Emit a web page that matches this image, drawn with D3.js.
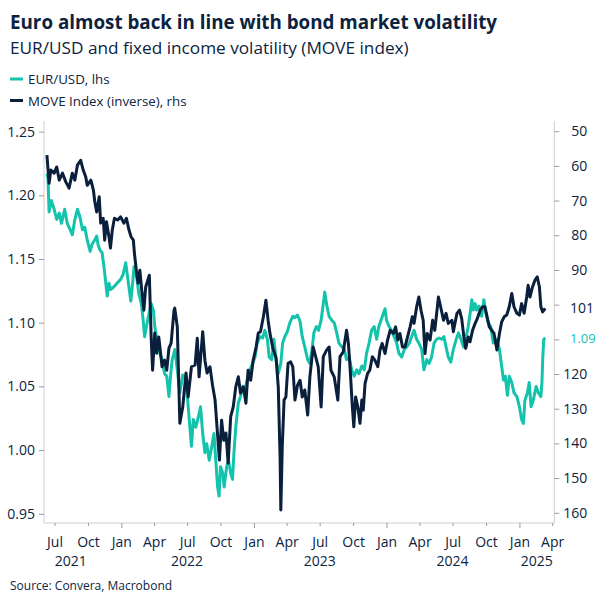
<!DOCTYPE html>
<html>
<head>
<meta charset="utf-8">
<script src="https://cdn.jsdelivr.net/npm/d3@7"></script>
<style>
  body { margin: 0; background: #fff; }
  svg { display: block; font-family: "Open Sans", sans-serif; }
</style>
</head>
<body>
<div id="chart"></div>
<script>
// Constants for the chart
const WIDTH = 605;
const HEIGHT = 605;
const PLOT = { left: 44, right: 554.3, top: 121, bottom: 523 };
const TEXT_COLOR = "#0c2340";
const EUR_COLOR = "#14c3ac";
const MOVE_COLOR = "#0a1f3c";
const AXIS_COLOR = "#cfcfcf";

// EUR/USD, left hand side
const eurDates = [
  "2021-06-10","2021-06-13","2021-06-16","2021-06-22","2021-06-30","2021-07-07","2021-07-14","2021-07-20",
  "2021-07-29","2021-08-05","2021-08-13","2021-08-19","2021-08-26","2021-09-02","2021-09-09","2021-09-16",
  "2021-09-22","2021-09-29","2021-10-07","2021-10-13","2021-10-20","2021-10-25","2021-10-29","2021-11-03",
  "2021-11-09","2021-11-14","2021-11-18","2021-11-23","2021-11-28","2021-12-02","2021-12-11","2021-12-20",
  "2021-12-30","2022-01-06","2022-01-13","2022-01-19","2022-01-27","2022-01-31","2022-02-05","2022-02-12",
  "2022-02-18","2022-02-25","2022-03-02","2022-03-06","2022-03-11","2022-03-18","2022-03-24","2022-03-30",
  "2022-04-03","2022-04-10","2022-04-17","2022-04-23","2022-04-30","2022-05-06","2022-05-12","2022-05-17",
  "2022-05-21","2022-05-26","2022-05-28","2022-06-02","2022-06-11","2022-06-19","2022-06-25","2022-07-01",
  "2022-07-07","2022-07-13","2022-07-18","2022-07-25","2022-08-01","2022-08-07","2022-08-13","2022-08-19",
  "2022-08-24","2022-08-31","2022-09-07","2022-09-13","2022-09-18","2022-09-23","2022-09-27","2022-10-01",
  "2022-10-07","2022-10-11","2022-10-18","2022-10-23","2022-10-29","2022-11-03","2022-11-07","2022-11-12",
  "2022-11-19","2022-11-25","2022-12-01","2022-12-07","2022-12-13","2022-12-21","2022-12-28","2023-01-04",
  "2023-01-10","2023-01-18","2023-01-25","2023-01-31","2023-02-07","2023-02-12","2023-02-19","2023-02-25",
  "2023-03-03","2023-03-09","2023-03-16","2023-03-21","2023-03-27","2023-04-03","2023-04-10","2023-04-18",
  "2023-04-24","2023-05-01","2023-05-08","2023-05-14","2023-05-21","2023-05-29","2023-06-04","2023-06-10",
  "2023-06-15","2023-06-22","2023-06-28","2023-07-05","2023-07-11","2023-07-15","2023-07-21","2023-07-27",
  "2023-08-03","2023-08-10","2023-08-17","2023-08-23","2023-08-31","2023-09-07","2023-09-13","2023-09-20",
  "2023-09-27","2023-10-04","2023-10-11","2023-10-17","2023-10-25","2023-11-01","2023-11-07","2023-11-14",
  "2023-11-21","2023-11-28","2023-12-05","2023-12-11","2023-12-17","2023-12-23","2023-12-28","2024-01-01",
  "2024-01-08","2024-01-15","2024-01-22","2024-01-29","2024-02-04","2024-02-12","2024-02-19","2024-02-26",
  "2024-03-04","2024-03-10","2024-03-17","2024-03-24","2024-03-30","2024-04-07","2024-04-13","2024-04-21",
  "2024-04-27","2024-05-04","2024-05-11","2024-05-18","2024-05-25","2024-06-01","2024-06-07","2024-06-13",
  "2024-06-19","2024-06-26","2024-07-03","2024-07-11","2024-07-17","2024-07-24","2024-07-31","2024-08-06",
  "2024-08-13","2024-08-18","2024-08-23","2024-08-27","2024-09-01","2024-09-05","2024-09-12","2024-09-19",
  "2024-09-25","2024-10-01","2024-10-07","2024-10-14","2024-10-21","2024-10-31","2024-11-07","2024-11-13",
  "2024-11-18","2024-11-23","2024-11-29","2024-12-04","2024-12-11","2024-12-17","2024-12-25","2025-01-01",
  "2025-01-07","2025-01-12","2025-01-16","2025-01-23","2025-01-28","2025-02-02","2025-02-08","2025-02-16",
  "2025-02-22","2025-03-01","2025-03-04","2025-03-06","2025-03-09","2025-03-13"
];
const eurValues = [
  1.217,1.213,1.187,1.196,1.189,1.181,1.186,1.178,
  1.189,1.178,1.173,1.169,1.181,1.189,1.183,1.173,
  1.175,1.165,1.156,1.162,1.165,1.168,1.161,1.157,
  1.155,1.144,1.134,1.121,1.131,1.126,1.128,1.131,
  1.134,1.138,1.147,1.134,1.117,1.128,1.144,1.136,
  1.123,1.115,1.102,1.089,1.097,1.107,1.115,1.110,
  1.097,1.084,1.076,1.071,1.060,1.058,1.042,1.060,
  1.071,1.076,1.079,1.068,1.045,1.059,1.058,1.045,
  1.024,1.003,1.024,1.018,1.026,1.034,1.013,0.998,
  1.005,0.992,1.003,1.013,0.992,0.971,0.964,0.987,
  0.982,0.971,0.987,0.992,0.982,0.977,0.998,1.018,
  1.037,1.042,1.050,1.047,1.055,1.063,1.068,1.073,
  1.084,1.089,1.088,1.094,1.087,1.073,1.071,1.087,
  1.071,1.060,1.068,1.084,1.089,1.093,1.100,1.105,
  1.104,1.106,1.101,1.089,1.081,1.071,1.068,1.079,
  1.092,1.097,1.094,1.102,1.115,1.124,1.113,1.105,
  1.102,1.100,1.092,1.084,1.081,1.079,1.071,1.073,
  1.063,1.058,1.063,1.060,1.066,1.063,1.076,1.084,
  1.094,1.097,1.087,1.097,1.102,1.107,1.111,1.102,
  1.097,1.094,1.089,1.084,1.076,1.073,1.079,1.081,
  1.084,1.089,1.094,1.087,1.084,1.079,1.063,1.071,
  1.068,1.073,1.084,1.087,1.088,1.087,1.089,1.081,
  1.073,1.069,1.079,1.087,1.092,1.087,1.081,1.087,
  1.097,1.107,1.118,1.110,1.115,1.110,1.113,1.105,
  1.118,1.107,1.100,1.097,1.084,1.087,1.079,1.066,
  1.055,1.058,1.043,1.058,1.053,1.045,1.042,1.034,
  1.024,1.021,1.039,1.045,1.053,1.034,1.039,1.050,
  1.045,1.042,1.053,1.071,1.087,1.088
];

// MOVE index, right hand side (inverted)
const moveDates = [
  "2021-06-10","2021-06-16","2021-06-21","2021-06-30","2021-07-07","2021-07-14","2021-07-23","2021-08-01",
  "2021-08-10","2021-08-19","2021-08-26","2021-09-02","2021-09-11","2021-09-18","2021-09-25","2021-09-29",
  "2021-10-09","2021-10-16","2021-10-20","2021-10-25","2021-11-01","2021-11-05","2021-11-12","2021-11-16",
  "2021-11-21","2021-11-28","2021-12-02","2021-12-07","2021-12-13","2021-12-22","2021-12-30","2022-01-08",
  "2022-01-15","2022-01-22","2022-01-28","2022-02-03","2022-02-06","2022-02-12","2022-02-16","2022-02-21",
  "2022-02-26","2022-03-04","2022-03-09","2022-03-15","2022-03-19","2022-03-24","2022-03-28","2022-04-03",
  "2022-04-08","2022-04-14","2022-04-19","2022-04-23","2022-04-30","2022-05-06","2022-05-12","2022-05-18",
  "2022-05-26","2022-05-28","2022-06-04","2022-06-11","2022-06-19","2022-06-28","2022-07-04","2022-07-13",
  "2022-07-23","2022-07-29","2022-08-03","2022-08-13","2022-08-19","2022-08-25","2022-09-02","2022-09-09",
  "2022-09-16","2022-09-22","2022-09-28","2022-10-04","2022-10-10","2022-10-16","2022-10-22","2022-10-29",
  "2022-11-05","2022-11-12","2022-11-19","2022-11-25","2022-12-03","2022-12-10","2022-12-16","2022-12-23",
  "2022-12-30","2023-01-07","2023-01-13","2023-01-19","2023-01-27","2023-02-03","2023-02-09","2023-02-14",
  "2023-02-22","2023-03-03","2023-03-09","2023-03-14","2023-03-16","2023-03-20","2023-03-25","2023-03-30",
  "2023-04-05","2023-04-12","2023-04-18","2023-04-24","2023-05-01","2023-05-08","2023-05-14","2023-05-21",
  "2023-05-29","2023-06-04","2023-06-13","2023-06-20","2023-06-27","2023-07-05","2023-07-11","2023-07-20",
  "2023-07-27","2023-08-01","2023-08-10","2023-08-20","2023-08-26","2023-09-04","2023-09-13","2023-09-18",
  "2023-09-22","2023-09-29","2023-10-03","2023-10-08","2023-10-14","2023-10-20","2023-10-25","2023-10-29",
  "2023-11-03","2023-11-10","2023-11-16","2023-11-23","2023-11-30","2023-12-08","2023-12-14","2023-12-20",
  "2023-12-28","2024-01-04","2024-01-11","2024-01-20","2024-01-26","2024-02-01","2024-02-07","2024-02-14",
  "2024-02-21","2024-02-28","2024-03-06","2024-03-12","2024-03-17","2024-03-24","2024-03-30","2024-04-05",
  "2024-04-11","2024-04-16","2024-04-22","2024-04-30","2024-05-07","2024-05-13","2024-05-23","2024-05-29",
  "2024-06-06","2024-06-13","2024-06-19","2024-06-29","2024-07-03","2024-07-13","2024-07-20","2024-07-26",
  "2024-08-01","2024-08-06","2024-08-13","2024-08-18","2024-08-25","2024-09-01","2024-09-07","2024-09-15",
  "2024-09-22","2024-09-28","2024-10-03","2024-10-10","2024-10-17","2024-10-23","2024-10-31","2024-11-07",
  "2024-11-13","2024-11-20","2024-11-27","2024-12-04","2024-12-11","2024-12-17","2024-12-25","2025-01-01",
  "2025-01-07","2025-01-14","2025-01-21","2025-01-25","2025-01-30","2025-02-06","2025-02-13","2025-02-19",
  "2025-02-25","2025-03-01","2025-03-06","2025-03-13"
];
const moveValues = [
  56.9,65.0,61.2,62.1,60.3,64.1,62.1,64.6,
  66.4,62.1,64.1,59.8,58.4,61.2,63.2,65.6,
  64.1,67.0,70.4,73.3,68.9,76.5,75.1,81.4,
  76.1,80.5,83.7,78.5,75.1,75.6,74.7,76.5,
  75.1,78.5,80.5,81.4,85.2,90.9,93.8,90.1,
  95.8,101.6,94.9,92.9,91.5,109.3,118.9,108.2,
  114.0,109.3,114.0,117.9,116.0,118.9,112.5,111.1,
  101.6,101.0,106.4,134.2,129.5,119.7,126.6,117.9,
  117.4,109.7,120.8,107.8,116.0,119.7,117.9,123.2,
  127.5,136.2,144.8,133.3,139.1,137.0,145.7,132.3,
  129.5,123.7,120.8,125.5,123.7,128.4,118.9,121.8,
  116.0,112.2,108.2,107.8,103.5,98.7,104.5,108.2,
  112.5,115.4,123.7,143.9,159.2,141.0,127.5,126.6,
  116.9,116.5,117.9,127.5,123.2,121.8,126.6,124.6,
  131.8,120.8,112.2,115.0,117.9,129.5,115.0,113.1,
  112.2,118.9,120.8,127.5,115.0,113.6,107.4,111.1,
  116.9,129.5,135.2,126.6,129.5,134.2,127.5,130.4,
  122.7,119.8,118.9,115.0,116.0,117.9,113.1,111.2,
  114.1,110.2,107.4,108.3,106.4,110.2,108.3,112.2,
  112.2,109.3,106.4,103.5,105.4,100.6,97.8,101.6,
  104.5,114.1,108.3,110.2,104.5,107.4,97.8,100.6,
  104.5,102.5,105.4,104.5,107.8,102.5,101.6,104.0,
  109.3,112.6,109.3,110.7,107.4,105.4,104.0,101.6,
  100.6,100.6,103.0,106.4,107.4,108.3,113.1,108.3,
  105.0,103.5,103.0,100.6,96.8,100.6,102.5,103.0,
  99.7,102.5,97.8,94.4,97.8,94.9,92.9,92.0,
  94.9,100.6,102.1,101.1
];

// axis labels
const eurTicks = [0.95, 1.00, 1.05, 1.10, 1.15, 1.20, 1.25];
const moveTicks = [50, 60, 70, 80, 90, 100, 110, 120, 130, 140, 150, 160];
const monthNames = ["Jan", "Apr", "Jul", "Oct"];
const yearLabels = ["2021", "2022", "2023", "2024", "2025"];
const yearLabelDates = ["2021-08-15", "2022-07-01", "2023-07-01", "2024-07-01", "2025-02-18"];

const parseDate = d3.timeParse("%Y-%m-%d");

let svg = d3.select("#chart")
  .append("svg")
  .attr("width", WIDTH)
  .attr("height", HEIGHT);

drawChart();

function drawChart() {
  let eurData = eurDates.map(function (d, i) {
    return { date: parseDate(d), value: eurValues[i] };
  });
  let moveData = moveDates.map(function (d, i) {
    return { date: parseDate(d), value: moveValues[i] };
  });

  let xScale = d3.scaleTime()
    .domain([parseDate("2021-06-02"), parseDate("2025-04-07")])
    .range([PLOT.left, PLOT.right]);

  let yLeft = d3.scaleLinear()
    .domain([0.95, 1.25])
    .range([513.8, 131.6]);

  // inverted: low volatility at the top
  let yRight = d3.scaleLinear()
    .domain([50, 160])
    .range([131.2, 512.8]);

  // titles
  svg.append("text")
    .attr("x", 10).attr("y", 29)
    .attr("fill", TEXT_COLOR)
    .attr("font-size", 18.8).attr("font-weight", "bold")
    .text("Euro almost back in line with bond market volatility");

  svg.append("text")
    .attr("x", 10).attr("y", 54)
    .attr("fill", TEXT_COLOR)
    .attr("font-size", 17.2)
    .text("EUR/USD and fixed income volatility (MOVE index)");

  // legend
  let legend = [
    { label: "EUR/USD, lhs", color: EUR_COLOR, y: 79 },
    { label: "MOVE Index (inverse), rhs", color: MOVE_COLOR, y: 100.5 }
  ];
  let legendG = svg.append("g");
  legendG.selectAll("line")
    .data(legend)
    .enter()
    .append("line")
    .attr("x1", 10).attr("x2", 23)
    .attr("y1", d => d.y).attr("y2", d => d.y)
    .attr("stroke", d => d.color)
    .attr("stroke-width", 3);
  legendG.selectAll("text")
    .data(legend)
    .enter()
    .append("text")
    .attr("x", 28).attr("y", d => d.y + 5)
    .attr("fill", TEXT_COLOR)
    .attr("font-size", 13.3)
    .text(d => d.label);

  // axis frame lines
  svg.append("line")
    .attr("x1", PLOT.left).attr("x2", PLOT.left)
    .attr("y1", PLOT.top).attr("y2", PLOT.bottom)
    .attr("stroke", AXIS_COLOR);
  svg.append("line")
    .attr("x1", PLOT.right).attr("x2", PLOT.right)
    .attr("y1", PLOT.top).attr("y2", PLOT.bottom)
    .attr("stroke", AXIS_COLOR);
  svg.append("line")
    .attr("x1", PLOT.left).attr("x2", PLOT.right)
    .attr("y1", PLOT.bottom).attr("y2", PLOT.bottom)
    .attr("stroke", AXIS_COLOR);

  // left axis
  let gLeft = svg.append("g")
    .attr("transform", "translate(" + PLOT.left + ",0)")
    .call(d3.axisLeft(yLeft).tickValues(eurTicks).tickFormat(d3.format(".2f")).tickSize(5).tickPadding(4));

  // right axis, the labels at 100 and 110 give way to the last value labels
  let gRight = svg.append("g")
    .attr("transform", "translate(" + PLOT.right + ",0)")
    .call(d3.axisRight(yRight).tickValues(moveTicks)
      .tickFormat(d => (d === 100 || d === 110) ? "" : d)
      .tickSize(5).tickPadding(4));
  gRight.selectAll(".tick text").attr("text-anchor", "end").attr("x", 33);

  // bottom axis, quarterly ticks with the year under
  let quarters = d3.timeMonth.every(3).range(parseDate("2021-07-01"), parseDate("2025-04-02"));
  let gBottom = svg.append("g")
    .attr("transform", "translate(0," + PLOT.bottom + ")")
    .call(d3.axisBottom(xScale).tickValues(quarters)
      .tickFormat(d => monthNames[d.getMonth() / 3])
      .tickSize(3).tickPadding(11));
  gBottom.selectAll(".tick line")
    .attr("y2", d => d.getMonth() === 0 ? 5 : 3);

  [gLeft, gRight, gBottom].forEach(function (g) {
    g.select(".domain").remove();
    g.selectAll(".tick line").attr("stroke", "#9a9a9a");
    g.selectAll(".tick text")
      .attr("fill", TEXT_COLOR)
      .attr("font-size", 14)
      .attr("font-family", "Open Sans, sans-serif");
  });

  svg.append("g")
    .selectAll("text")
    .data(yearLabels)
    .enter()
    .append("text")
    .attr("x", (d, i) => xScale(parseDate(yearLabelDates[i])))
    .attr("y", 566)
    .attr("text-anchor", "middle")
    .attr("fill", TEXT_COLOR)
    .attr("font-size", 14)
    .text(d => d);

  // lines
  svg.append("path")
    .datum(eurData)
    .attr("fill", "none")
    .attr("stroke", EUR_COLOR)
    .attr("stroke-width", 3)
    .attr("stroke-linejoin", "round")
    .attr("d", d3.line()
      .x(d => xScale(d.date))
      .y(d => yLeft(d.value)));

  svg.append("path")
    .datum(moveData)
    .attr("fill", "none")
    .attr("stroke", MOVE_COLOR)
    .attr("stroke-width", 3)
    .attr("stroke-linejoin", "round")
    .attr("d", d3.line()
      .x(d => xScale(d.date))
      .y(d => yRight(d.value)));

  // last value labels
  let lastEur = eurData[eurData.length - 1];
  let lastMove = moveData[moveData.length - 1];
  svg.append("text")
    .attr("x", 570).attr("y", yLeft(lastEur.value) + 5)
    .attr("fill", EUR_COLOR)
    .attr("font-size", 13)
    .text(d3.format(".2f")(lastEur.value));
  svg.append("text")
    .attr("x", 570).attr("y", yRight(lastMove.value) + 5)
    .attr("fill", MOVE_COLOR)
    .attr("font-size", 14)
    .text(d3.format(".0f")(lastMove.value));

  // source
  svg.append("text")
    .attr("x", 10).attr("y", 590)
    .attr("fill", TEXT_COLOR)
    .attr("font-size", 12)
    .text("Source: Convera, Macrobond");
}
</script>
</body>
</html>
